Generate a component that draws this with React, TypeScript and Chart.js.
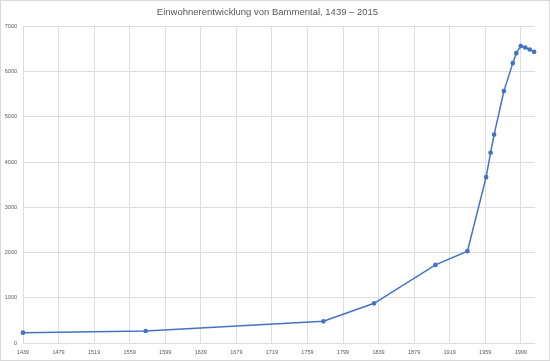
import React, { useEffect, useRef } from "react";
import { Chart, registerables } from "chart.js";

Chart.register(...registerables);

const TITLE = "Einwohnerentwicklung von Bammental, 1439 – 2015";
const years = [1439, 1577, 1777, 1834, 1903, 1939, 1960, 1965, 1969, 1980, 1990, 1994, 1999, 2004, 2009, 2014];
const population = [228, 265, 480, 878, 1726, 2030, 3666, 4206, 4608, 5569, 6188, 6409, 6564, 6533, 6489, 6438];
const xTicks = [1439, 1479, 1519, 1559, 1599, 1639, 1679, 1719, 1759, 1799, 1839, 1879, 1919, 1959, 1999];
const yTicks = [0, 1000, 2000, 3000, 4000, 5000, 6000, 7000];
const X_MIN = 1439;
const X_MAX = 2015;

const FONT = "'Liberation Sans', sans-serif";

export default function App() {
  const ref = useRef<HTMLCanvasElement | null>(null);
  useEffect(() => {
    document.body.style.margin = "0";
    const canvas = ref.current;
    if (!canvas) return;
    const frame = {
      id: "frame",
      beforeDraw(chart: any) {
        const ctx = chart.ctx;
        ctx.save();
        ctx.fillStyle = "#ffffff";
        ctx.fillRect(0, 0, chart.width, chart.height);
        ctx.restore();
      },
      afterDraw(chart: any) {
        const ctx = chart.ctx;
        ctx.save();
        ctx.strokeStyle = "#d9d9d9";
        ctx.lineWidth = 1;
        ctx.strokeRect(0.5, 0.5, chart.width - 1, chart.height - 1);
        ctx.restore();
      },
    };
    const chart = new Chart(canvas, {
      type: "line",
      data: {
        datasets: [
          {
            data: years.map((y, i) => ({ x: y, y: population[i] })),
            borderColor: "#4472C4",
            backgroundColor: "#4472C4",
            borderWidth: 1.5,
            pointRadius: 1.6,
            pointHoverRadius: 1.6,
            pointStyle: "circle",
            tension: 0,
            clip: false,
          },
        ],
      },
      options: {
        animation: false,
        responsive: false,
        maintainAspectRatio: false,
        layout: { padding: { left: 0, right: 15, top: 0, bottom: 0 } },
        plugins: {
          legend: { display: false },
          tooltip: { enabled: false },
          title: {
            display: true,
            text: TITLE,
            color: "#595959",
            font: { family: FONT, size: 9.5, weight: "normal" },
            padding: { top: 7, bottom: 8 },
          },
        },
        scales: {
          x: {
            type: "linear",
            min: X_MIN,
            max: X_MAX,
            afterBuildTicks: (s: any) => {
              s.ticks = xTicks.map((v) => ({ value: v }));
            },
            afterFit: (s: any) => {
              s.height = 18;
            },
            grid: { color: "#dedede", drawTicks: false, lineWidth: 1 },
            border: { display: false },
            ticks: {
              color: "#595959",
              font: { family: FONT, size: 5.5 },
              padding: 6,
              maxRotation: 0,
              autoSkip: false,
              callback: (v: any) => String(v),
            },
          },
          y: {
            min: 0,
            max: 7000,
            afterBuildTicks: (s: any) => {
              s.ticks = yTicks.map((v) => ({ value: v }));
            },
            afterFit: (s: any) => {
              s.width = 23;
            },
            grid: { color: "#dedede", drawTicks: false, lineWidth: 1 },
            border: { display: false },
            ticks: {
              color: "#595959",
              font: { family: FONT, size: 5.5 },
              padding: 6,
              callback: (v: any) => String(v),
            },
          },
        },
      },
      plugins: [frame],
    } as any);
    return () => chart.destroy();
  }, []);
  return (
    <div style={{ position: "absolute", left: 0, top: 0, width: 550, height: 361 }}>
      <canvas ref={ref} width={550} height={361} style={{ width: 550, height: 361, display: "block" }} />
    </div>
  );
}
